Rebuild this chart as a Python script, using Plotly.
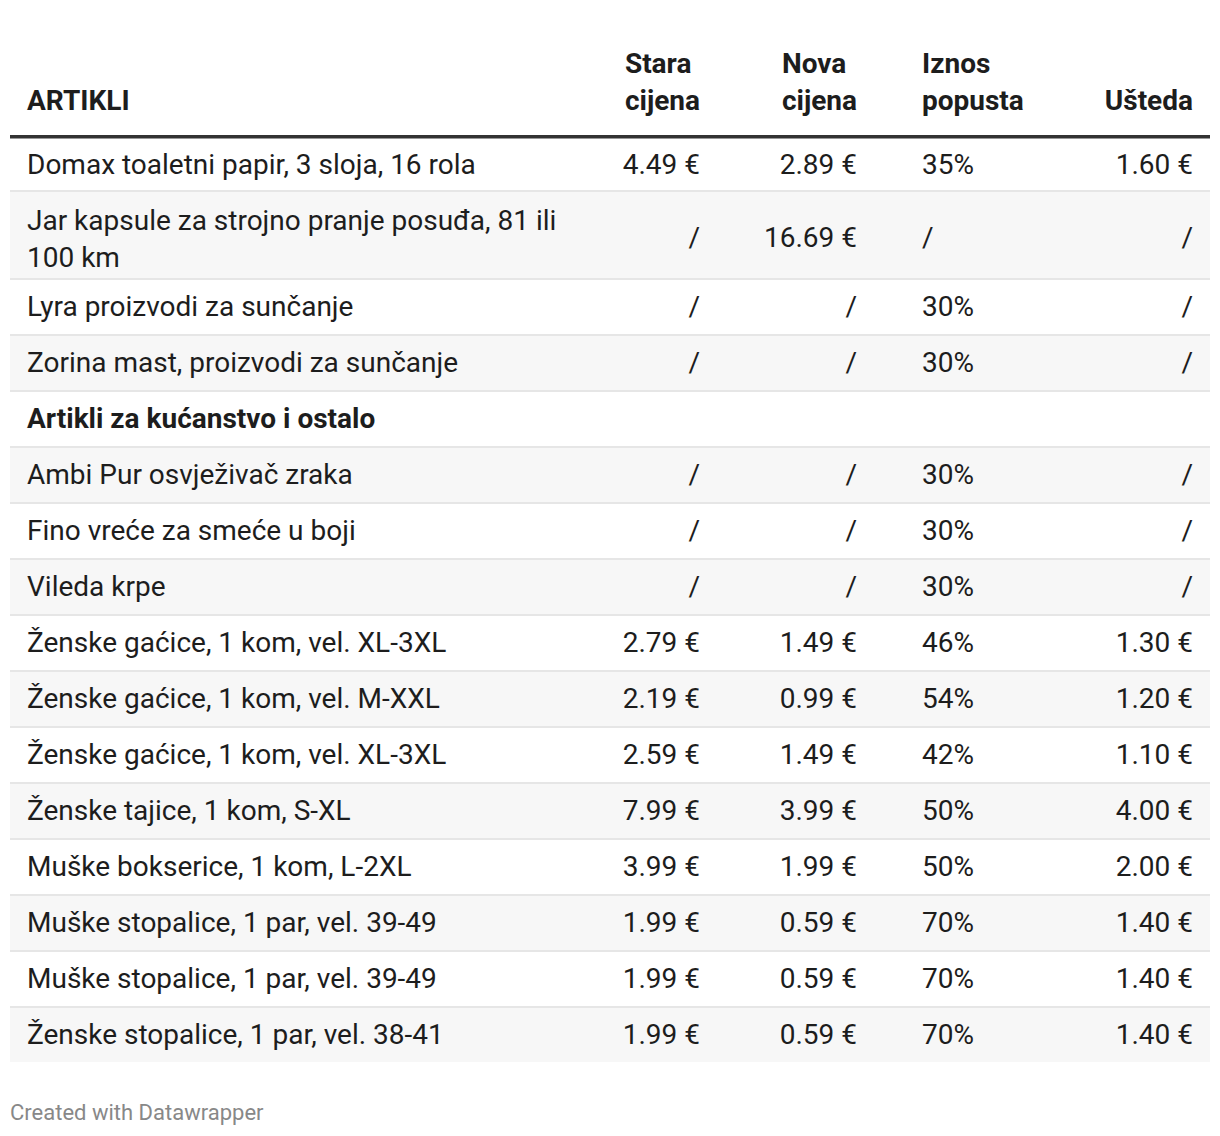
import plotly.graph_objects as go

# page is shown with an 8px body margin, so the figure is 8px smaller
W, H = 1212, 1128
OFF = 8

# ---------------- data ----------------
artikli = [
    "Domax toaletni papir, 3 sloja, 16 rola",
    "Jar kapsule za strojno pranje posuđa, 81 ili 100 km",
    "Lyra proizvodi za sunčanje",
    "Zorina mast, proizvodi za sunčanje",
    "Artikli za kućanstvo i ostalo",
    "Ambi Pur osvježivač zraka",
    "Fino vreće za smeće u boji",
    "Vileda krpe",
    "Ženske gaćice, 1 kom, vel. XL-3XL",
    "Ženske gaćice, 1 kom, vel. M-XXL",
    "Ženske gaćice, 1 kom, vel. XL-3XL",
    "Ženske tajice, 1 kom, S-XL",
    "Muške bokserice, 1 kom, L-2XL",
    "Muške stopalice, 1 par, vel. 39-49",
    "Muške stopalice, 1 par, vel. 39-49",
    "Ženske stopalice, 1 par, vel. 38-41",
]
stara_cijena = ["4.49 €", "/", "/", "/", "", "/", "/", "/", "2.79 €", "2.19 €",
                "2.59 €", "7.99 €", "3.99 €", "1.99 €", "1.99 €", "1.99 €"]
nova_cijena = ["2.89 €", "16.69 €", "/", "/", "", "/", "/", "/", "1.49 €", "0.99 €",
               "1.49 €", "3.99 €", "1.99 €", "0.59 €", "0.59 €", "0.59 €"]
iznos_popusta = ["35%", "/", "30%", "30%", "", "30%", "30%", "30%", "46%", "54%",
                 "42%", "50%", "50%", "70%", "70%", "70%"]
usteda = ["1.60 €", "/", "/", "/", "", "/", "/", "/", "1.30 €", "1.20 €",
          "1.10 €", "4.00 €", "2.00 €", "1.40 €", "1.40 €", "1.40 €"]
headers = [["ARTIKLI"], ["Stara", "cijena"], ["Nova", "cijena"], ["Iznos", "popusta"], ["Ušteda"]]
footer = "Created with Datawrapper"

# ---------------- styling ----------------
FONT = "Roboto"
FS = 28
TXT = "#1d1d1d"
GRAY_ROW = "#f7f7f7"
SEP = "#e6e6e6"
n = len(artikli)
NBSP = "\u00a0"
SPACER = f"<span style='font-size:6px'>{NBSP}</span><br>"   # pushes text to the row middle

value_cols = [stara_cijena, nova_cijena, iznos_popusta, usteda]
is_group = [all(c[i] == "" for c in value_cols) for i in range(n)]
two_line = [len(a) > 45 for a in artikli]       # names that wrap onto a 2nd line


def centred(values):
    """vertically centre single-line cells in a two-line row"""
    out = []
    for v, t in zip(values, two_line):
        if not v:
            out.append(v)
        elif t:
            out.append(SPACER + v)
        else:
            out.append(f"<span>{v}</span>")
    return out


names = [f"<b>{a}</b>" if g else f"<span>{a}</span>" for a, g in zip(artikli, is_group)]
empty = [""] * n
disp_vals = [centred(c) for c in value_cols]
cols = [empty, names, disp_vals[0], disp_vals[1], empty, disp_vals[2], disp_vals[3], empty]


def head(lines):
    return "<br>".join(([NBSP] if len(lines) == 1 else []) + lines)


hdr = ["", head(headers[0]), head(headers[1]), head(headers[2]), "", head(headers[3]), head(headers[4]), ""]
widths = [9, 570, 119, 157, 49, 126, 161, 9]
align = ["left", "left", "right", "right", "left", "left", "right", "left"]

L_M = 2          # left margin (figure px)
TBL_W = 1200
R_M = W - L_M - TBL_W


def px(x):       # page px -> paper x
    return (x - OFF - L_M) / TBL_W


def py(y):       # page px -> paper y
    return 1 - (y - OFF) / H


HEADER_TOP = 39.4   # page px
CELL_TOP = 140.4
CELL_H = 56
EXTRA_LINE = 32

fig = go.Figure(go.Table(
    domain=dict(x=[0, 1], y=[0, py(HEADER_TOP)]),
    columnwidth=widths,
    header=dict(values=hdr, align=align, height=CELL_TOP - HEADER_TOP,
                fill_color="rgba(0,0,0,0)", line_width=0,
                font=dict(family=FONT, size=FS, color=TXT, weight="bold")),
    cells=dict(values=cols, align=align, height=CELL_H,
               fill_color="rgba(0,0,0,0)", line_width=0,
               font=dict(family=FONT, size=FS, color=TXT)),
))

# row backgrounds and separators
shapes = []
top = 136
for i in range(n):
    pitch = CELL_H + EXTRA_LINE * two_line[i]
    fill = "white" if i % 2 == 0 else GRAY_ROW
    shapes.append(dict(type="rect", xref="paper", yref="paper", layer="below",
                       x0=px(10), x1=px(1210), y0=py(top), y1=py(top + pitch - 2),
                       fillcolor=fill, line_width=0))
    if i < n - 1:
        shapes.append(dict(type="rect", xref="paper", yref="paper", layer="below",
                           x0=px(10), x1=px(1210), y0=py(top + pitch - 2), y1=py(top + pitch),
                           fillcolor=SEP, line_width=0))
    top += pitch
# thick header rule
shapes.append(dict(type="rect", xref="paper", yref="paper", layer="below",
                   x0=px(10), x1=px(1210), y0=py(135), y1=py(138.5),
                   fillcolor="#333333", line_width=0))

fig.update_layout(
    width=W, height=H,
    margin=dict(l=L_M, r=R_M, t=0, b=0),
    paper_bgcolor="white", plot_bgcolor="white",
    shapes=shapes,
    annotations=[dict(text=footer, x=px(10), y=py(1112), xshift=-2,
                      xref="paper", yref="paper", xanchor="left", yanchor="middle",
                      showarrow=False, font=dict(family=FONT, size=22, color="#888888"))],
)
fig.write_html("out.html")
